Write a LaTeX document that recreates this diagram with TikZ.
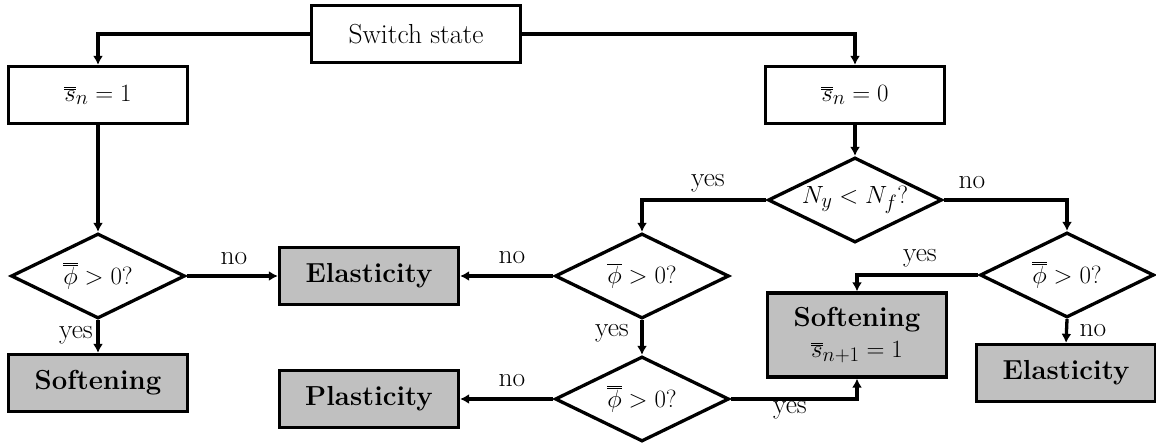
\documentclass[tikz,border=0pt]{standalone}
\usetikzlibrary{shapes.geometric,arrows.meta}
\definecolor{boxgray}{RGB}{192,192,192}
\newcommand{\dbar}[1]{\overline{\overline{#1}}}
\begin{document}
\begin{tikzpicture}[x=1pt,y=-1pt,
  font=\fontsize{27.5}{33}\selectfont,
  every node/.style={inner sep=0pt},
  boxw/.style={draw,line width=3.3pt,rectangle,minimum width=179pt,minimum height=57pt},
  boxg/.style={boxw,fill=boxgray,font=\fontsize{27.5}{33}\selectfont\bfseries},
  dia/.style={draw,line width=3.3pt,diamond,aspect=2,minimum width=174pt,minimum height=85pt},
  conn/.style={line width=3.3pt,-{Latex[length=9pt,width=10pt]}},
  lab/.style={}
]
\useasboundingbox (0,0) rectangle (1156,443);
% nodes
\node[boxw,minimum width=209pt,minimum height=57pt] (sw) at (416,34) {Switch state};
\node[boxw] (s1) at (98,95) {$\dbar{s}_n=1$};
\node[boxw] (s0) at (855,95) {$\dbar{s}_n=0$};
\node[dia] (d1) at (98,276) {$\dbar{\phi}>0?$};
\node[dia] (dn) at (855,200) {$N_y<N_f?$};
\node[dia] (d2) at (642,276) {$\overline{\phi}>0?$};
\node[dia] (d3) at (642,399) {$\dbar{\phi}>0?$};
\node[dia] (d4) at (1067,275) {$\dbar{\phi}>0?$};
\node[boxg] (soft1) at (98,383) {Softening};
\node[boxg] (el1) at (369,276) {Elasticity};
\node[boxg] (pl) at (369,399) {Plasticity};
\node[boxg,minimum height=84pt,align=center] (soft2) at (857,335) {Softening\\[-2pt] \mdseries$\dbar{s}_{n+1}=1$};
\node[boxg] (el2) at (1066,373) {Elasticity};
% connectors
\draw[conn] (sw.west) -| (s1.north);
\draw[conn] (sw.east) -| (s0.north);
\draw[conn] (s1.south) -- (d1.north);
\draw[conn] (d1.east) -- (el1.west);
\draw[conn] (d1.south) -- (soft1.north);
\draw[conn] (s0.south) -- (dn.north);
\draw[conn] (dn.west) -| (d2.north);
\draw[conn] (dn.east) -| (d4.north);
\draw[conn] (d2.west) -- (el1.east);
\draw[conn] (d2.south) -- (d3.north);
\draw[conn] (d3.west) -- (pl.east);
\draw[conn] (d3.east) -| (soft2.south);
\draw[conn] (d4.west) -| (soft2.north);
\draw[conn] (d4.south) -- (el2.north);
% labels
\node[lab] (l1) at (234,259) {no};
\node[lab] (l2) at (76,335) {yes};
\node[lab] (l3) at (708,183) {yes};
\node[lab] (l4) at (972,183) {no};
\node[lab] (l5) at (512,258) {no};
\node[lab] (l6) at (612,333) {yes};
\node[lab] (l7) at (512,381) {no};
\node[lab] (l8) at (790,410) {yes};
\node[lab] (l9) at (920,258) {yes};
\node[lab] (l10) at (1093,331) {no};
\end{tikzpicture}
\end{document}
